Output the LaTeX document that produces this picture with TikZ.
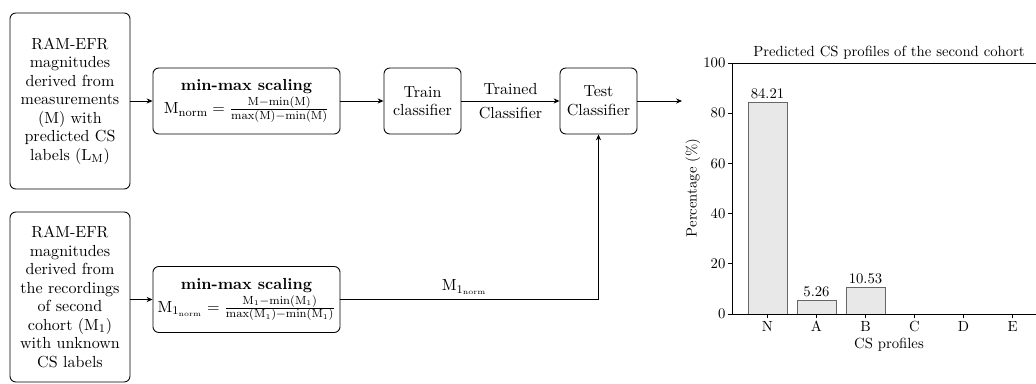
\documentclass[tikz,border=0pt]{standalone}
\usetikzlibrary{arrows.meta}
\begin{document}
\begin{tikzpicture}[x=0.68pt,y=-0.68pt,
  diag/.style={font=\fontsize{10.9}{12.6}\selectfont},
  blok/.style={diag, draw, line width=0.6pt, rounded corners=4pt, align=center, inner sep=2pt},
  fleche/.style={-{Stealth[length=4pt,width=3.5pt]}, line width=0.6pt},
  barre/.style={draw=black!60, fill=black!9, line width=0.5pt}]
  \useasboundingbox (0,0) rectangle (1036,384);
  \def\yo{314}
  \def\ys{2.51}

  % Blocs
  \node[blok, minimum width=81.6pt, minimum height=119.7pt] (mesA) at (70,101)
    {RAM-EFR\\magnitudes\\derived from\\measurements\\(M) with\\predicted CS\\labels ($\mathrm{L_M}$)};
  \node[blok, minimum width=81.6pt, minimum height=115.6pt] (mesB) at (70,297)
    {RAM-EFR\\magnitudes\\derived from\\the recordings\\of second\\cohort ($\mathrm{M_1}$)\\with unknown\\CS labels};
  \node[blok, minimum width=127.2pt, minimum height=44.9pt] (normA) at (246.5,101)
    {\textbf{min-max scaling}\\[1pt]$\mathrm{M_{norm}}=\frac{\mathrm{M-min(M)}}{\mathrm{max(M)-min(M)}}$};
  \node[blok, minimum width=127.2pt, minimum height=44.9pt] (normB) at (246.5,299.5)
    {\textbf{min-max scaling}\\[1pt]$\mathrm{M_{1_{norm}}}=\frac{\mathrm{M_1-min(M_1)}}{\mathrm{max(M_1)-min(M_1)}}$};
  \node[blok, minimum width=52.4pt, minimum height=44.9pt] (train) at (422.5,101) {Train\\classifier};
  \node[blok, minimum width=52.4pt, minimum height=44.9pt] (test) at (598.5,101) {Test\\Classifier};
  \coordinate (sortie) at (682,101);

  % Fleches
  \draw[fleche] (mesA) -- (normA);
  \draw[fleche] (mesB.east |- normB.west) -- (normB);
  \draw[fleche] (normA) -- (train);
  \draw[fleche] (train) -- node[diag, above, inner sep=4pt] {Trained} node[diag, below, inner sep=4pt] {Classifier} (test);
  \draw[fleche] (test) -- (sortie);
  \draw[fleche] (normB.east) -| node[diag, pos=0.24, above, inner sep=3pt] {$\mathrm{M_{1_{norm}}}$} (test.south);

  % Histogramme
  \foreach \i/\v in {0/84.21,1/5.26,2/10.53,3/0,4/0,5/0}
    \draw[barre] ({748+49*\i},\yo) rectangle ({787+49*\i},{\yo-\v*\ys});
  \foreach \i/\v in {0/84.21,1/5.26,2/10.53}
    \node[above, inner sep=2.5pt] (val\i) at ({767.5+49*\i},{\yo-\v*\ys}) {\v};
  \draw[line width=0.6pt] (1036,63) -- (732,63) -- (732,\yo) -- (1036,\yo);
  \foreach \t in {0,20,...,100}
    \draw[line width=0.5pt] (732,{\yo-\t*\ys}) -- ++(-4,0) node[left, inner sep=1.5pt] (yt\t) {\t};
  \foreach \i/\lab in {0/N,1/A,2/B,3/C,4/D,5/E}
    \draw[line width=0.5pt] ({767.5+49*\i},\yo) -- ++(0,4) node[below, inner sep=2pt] (xt\i) {\lab};

  % Titres
  \node (titre) at (889,53) {Predicted CS profiles of the second cohort};
  \node (xlab) at (889,345) {CS profiles};
  \node[rotate=90] (ylab) at (693,188) {Percentage (\%)};
\end{tikzpicture}
\end{document}
